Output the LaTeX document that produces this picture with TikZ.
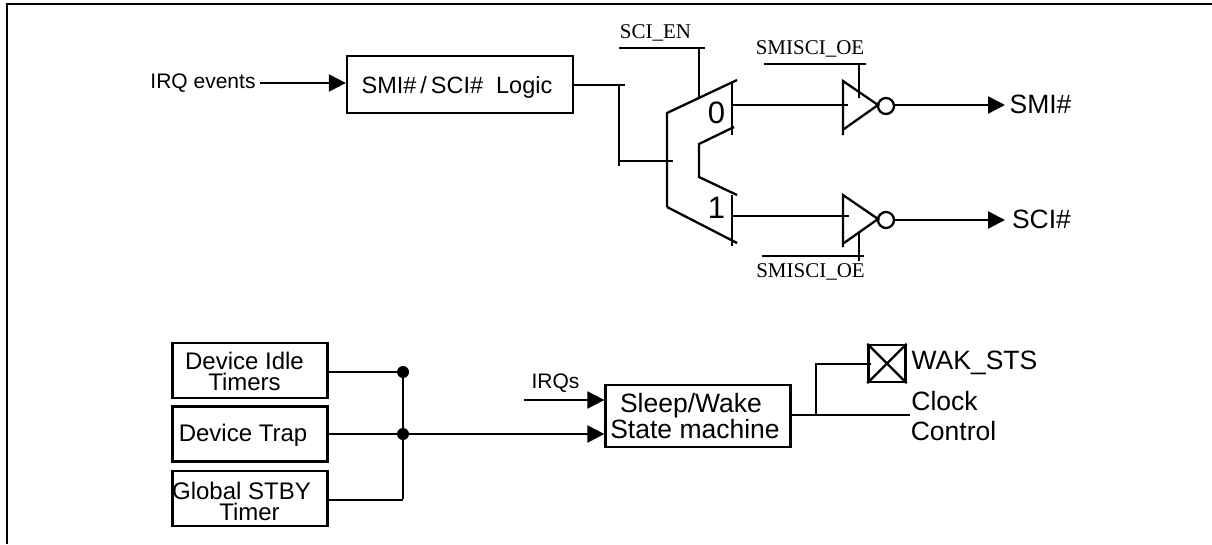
\documentclass[tikz,border=0pt]{standalone}
\usepackage{fontspec}
\setmainfont{Liberation Sans}
\newfontfamily\serifface{Liberation Serif}
\usetikzlibrary{arrows.meta}
\tikzset{
  wire/.style={line width=2.3pt,line cap=butt},
  flow/.style={wire,-{Triangle[length=17pt,width=17pt]}},
  block/.style={draw,line width=2.3pt,inner sep=0pt},
  lab/.style={inner sep=0pt,anchor=center,font=\fontsize{24}{24}\selectfont},
  biglab/.style={inner sep=0pt,anchor=center,font=\fontsize{26.5}{26.5}\selectfont},
  smalllab/.style={inner sep=0pt,anchor=center,font=\fontsize{21}{21}\selectfont},
  siglab/.style={inner sep=0pt,anchor=center,font=\serifface\fontsize{21}{21}\selectfont},
  digit/.style={inner sep=0pt,anchor=center,font=\fontsize{31}{31}\selectfont},
  dotnode/.style={circle,fill=black,inner sep=0pt,minimum size=12pt},
  bubble/.style={circle,draw,line width=2.3pt,inner sep=0pt,minimum size=16pt},
  gate/.style={wire,line join=miter}
}
\begin{document}
\begin{tikzpicture}[x=1pt,y=-1pt]
\useasboundingbox (0,0) rectangle (1212,544);
% frame
\draw[line width=2pt] (7,544) -- (7,4) -- (1212,4);
% upper row
\node[smalllab] (irq) at (203,83) {IRQ events};
\node[block,minimum width=226pt,minimum height=57pt] (logic) at (460,84.5) {};
\node[lab,font=\fontsize{23.5}{24}\selectfont] (logictxt) at (457,87) {SMI\#\,/\,SCI\#\; Logic};
\coordinate (irqstart) at (260,83);
\draw[flow] (irqstart) -- (logic.west |- irqstart);
% logic to mux
\coordinate (j1) at (625,85);
\coordinate (j2) at (619,85);
\coordinate (j3) at (619,166);
\coordinate (j4) at (619,161);
\coordinate (j5) at (673,161);
\draw[wire] (logic.east |- j1) -- (j1);
\draw[wire] (j2) -- (j3);
\draw[wire] (j4) -- (j5);
% mux
\coordinate (m1) at (667,207);
\coordinate (m2) at (667,113);
\coordinate (m3) at (737,80);
\draw[gate] (m1) -- (m2) -- (m3);
\draw[wire] (m1) -- (737,243);
\draw[wire] (732,82) -- (732,135);
\draw[gate] (734,127) -- (699,144) -- (699,177) -- (737,195);
\draw[wire] (732,195) -- (732,246);
\node[digit] (zero) at (716.5,113) {0};
\node[digit] (one) at (716.5,208) {1};
% SCI_EN
\node[siglab] (sciEn) at (655.5,33) {SCI\_EN};
\coordinate (en1) at (619,48);
\coordinate (en2) at (705,48);
\coordinate (en3) at (699,48);
\coordinate (en4) at (699,99);
\draw[wire] (en1) -- (en2);
\draw[wire] (en3) -- (en4);
% upper buffer
\coordinate (t1) at (843,81);
\coordinate (t2) at (843,135);
\node[bubble] (b1) at (886,106) {};
\draw[gate] (t2) -- (t1) -- (878,105) -- (844,129);
\coordinate (m0) at (732,105);
\coordinate (i0) at (848,105);
\draw[wire] (m0) -- (i0);
\coordinate (a1) at (1005,105);
\draw[flow] (b1.east |- a1) -- (a1);
\node[biglab] (smi) at (1040.5,104) {SMI\#};
\node[siglab] (oe1) at (810,49) {SMISCI\_OE};
\coordinate (o1) at (764,64);
\coordinate (o2) at (866,64);
\draw[wire] (o1) -- (o2);
\coordinate (o5) at (859,64);
\coordinate (o6) at (859,98);
\draw[wire] (o5) -- (o6);
% lower buffer
\coordinate (t3) at (843,195);
\coordinate (t4) at (843,247);
\node[bubble] (b2) at (886,220) {};
\draw[gate] (t4) -- (t3) -- (878,219) -- (844,243);
\coordinate (m5) at (732,216);
\coordinate (i5) at (849,216);
\draw[wire] (m5) -- (i5);
\coordinate (a2) at (1005,220);
\draw[flow] (b2) -- (a2);
\node[biglab] (sci) at (1041.5,219) {SCI\#};
\coordinate (o3) at (762,256);
\coordinate (o4) at (864,256);
\draw[wire] (o3) -- (o4);
\coordinate (o7) at (859,232);
\coordinate (o8) at (859,261);
\draw[wire] (o7) -- (o8);
\node[siglab] (oe2) at (810.5,272) {SMISCI\_OE};
% left blocks
\node[block,minimum width=155pt,minimum height=55pt] (idle) at (250,370.5) {};
\node[block,minimum width=155pt,minimum height=55pt] (trap) at (250,434) {};
\node[block,minimum width=155pt,minimum height=55pt] (stby) at (250,498.5) {};
\node[lab,align=center,font=\fontsize{24}{21}\selectfont] (idlet) at (244.5,371.5) {Device Idle\\Timers};
\node[lab] (trapt) at (243,435) {Device Trap};
\node[lab,align=center,font=\fontsize{24}{21}\selectfont] (stbyt) at (241.5,501.5) {Global STBY\\\hspace{16pt}Timer};
\node[dotnode] (d1) at (403,372) {};
\node[dotnode] (d2) at (403,434) {};
\coordinate (d3) at (403,500);
\draw[wire] (idle.east |- d1) -- (d1);
\draw[wire] (trap.east) -- (d2);
\draw[wire] (stby.east |- d3) -- (d3);
\draw[wire,line join=miter] (d1.center) -- ([yshift=1pt]d3);
% sleep/wake
\node[block,minimum width=185pt,minimum height=62pt] (sleep) at (698,416) {};
\node[biglab,align=center,font=\fontsize{26.5}{26}\selectfont] (slt) at (695,416) {\hspace{-8pt}Sleep/Wake\\State machine};
\coordinate (q1) at (524,400);
\draw[flow] (q1) -- (sleep.west |- q1);
\node[smalllab] (irqs) at (555.5,383) {IRQs};
\draw[flow] (d2) -- (sleep.west |- d2);
% WAK
\node[block,minimum width=37pt,minimum height=37pt] (wak) at (887,363.5) {};
\draw[line width=2.3pt] (wak.north west) -- (wak.south east);
\draw[line width=2.3pt] (wak.north east) -- (wak.south west);
\coordinate (c1) at (910,415);
\coordinate (c2) at (816,415);
\draw[wire] (sleep.east |- c1) -- (c1);
\draw[gate] (c2) -- (816,364) -- (871,364);
\node[biglab] (wakt) at (974.5,363) {WAK\_STS};
\node[biglab] (clk) at (944.5,401) {Clock};
\node[biglab] (ctl) at (953.5,431) {Control};
\end{tikzpicture}
\end{document}
